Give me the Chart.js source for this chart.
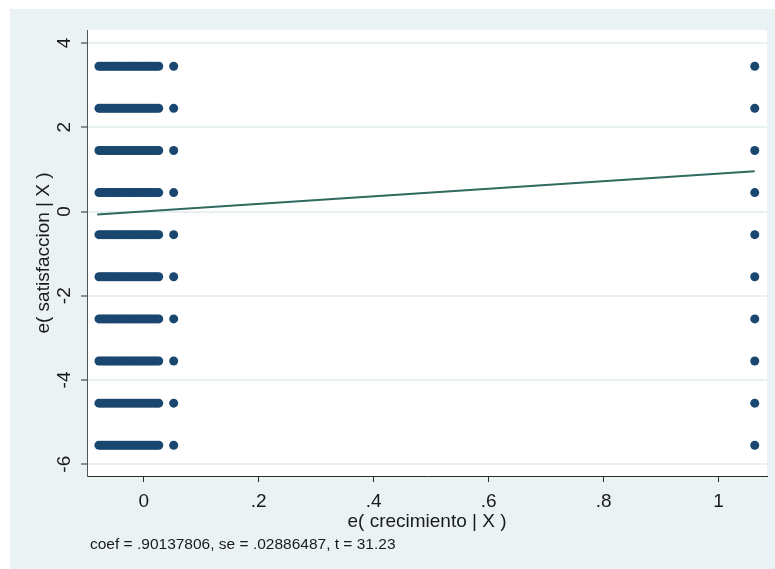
<!DOCTYPE html>
<html>
<head>
<meta charset="utf-8">
<title>e( satisfaccion | X ) vs e( crecimiento | X )</title>
<script src="https://cdn.jsdelivr.net/npm/chart.js@4.4.1/dist/chart.umd.min.js"></script>
<style>
  html, body { margin: 0; padding: 0; background: #ffffff; }
  #wrap { width: 775px; height: 569px; position: relative; }
</style>
</head>
<body>
<div id="wrap"><canvas id="av" width="775" height="569"></canvas></div>
<script>
// Residual levels of satisfaccion (one row of points per level)
const yLevels = [3.45, 2.45, 1.45, 0.45, -0.55, -1.55, -2.55, -3.55, -4.55, -5.55];

// Residuals of crecimiento in the dense group near zero
const clusterX = [-0.078, -0.074, -0.070, -0.066, -0.062, -0.058, -0.054, -0.050,
                  -0.046, -0.042, -0.038, -0.034, -0.030, -0.026, -0.022, -0.018,
                  -0.014, -0.010, -0.006, -0.002, 0.002, 0.006, 0.010, 0.014,
                  0.018, 0.022, 0.026];
// Isolated residual columns
const loneX = [0.052, 1.063];

// Fitted slope and its statistics
const coef = 0.90137806;
const se = 0.02886487;
const tStat = 31.23;
const fitX = [-0.081, 1.063];

// Axis ticks
const xTickValues = [0, 0.2, 0.4, 0.6, 0.8, 1];
const xTickLabels = ["0", ".2", ".4", ".6", ".8", "1"];
const yTickValues = [-6, -4, -2, 0, 2, 4];
const yTickLabels = ["-6", "-4", "-2", "0", "2", "4"];

const xTitle = "e( crecimiento | X )";
const yTitle = "e( satisfaccion | X )";
const note = "coef = .90137806, se = .02886487, t = 31.23";

// Scatter points: every residual column at every satisfaccion level
const points = [];
yLevels.forEach(y => {
  clusterX.forEach(x => points.push({ x: x, y: y }));
  loneX.forEach(x => points.push({ x: x, y: y }));
});
const fitLine = fitX.map(x => ({ x: x, y: coef * x }));

const FONT = '"Liberation Sans", Arial, sans-serif';

const frame = {
  id: 'frame',
  beforeDraw(chart) {
    const { ctx, chartArea: a } = chart;
    ctx.save();
    ctx.fillStyle = '#eaf2f3';
    ctx.fillRect(10, 9, chart.width - 10, chart.height - 9);
    ctx.fillStyle = '#ffffff';
    ctx.fillRect(a.left, a.top, a.right - a.left, a.bottom - a.top);
    ctx.restore();
  },
  afterDraw(chart) {
    const { ctx, chartArea: a } = chart;
    const xs = chart.scales.x, ys = chart.scales.y;
    ctx.save();
    ctx.fillStyle = '#1a1a1a';
    ctx.font = '19px ' + FONT;

    // x tick labels
    ctx.textAlign = 'center';
    ctx.textBaseline = 'alphabetic';
    xTickValues.forEach((v, i) => {
      ctx.fillText(xTickLabels[i], xs.getPixelForValue(v), 507);
    });

    // y tick labels, read bottom-to-top
    yTickValues.forEach((v, i) => {
      ctx.save();
      ctx.translate(70, ys.getPixelForValue(v));
      ctx.rotate(-Math.PI / 2);
      ctx.textAlign = 'center';
      ctx.fillText(yTickLabels[i], 0, 0);
      ctx.restore();
    });

    // axis titles
    ctx.fillText(xTitle, (a.left + a.right) / 2, 527);
    ctx.save();
    ctx.translate(49, (a.top + a.bottom) / 2);
    ctx.rotate(-Math.PI / 2);
    ctx.textAlign = 'center';
    ctx.fillText(yTitle, 0, 0);
    ctx.restore();

    // note with the slope statistics
    ctx.font = '15.5px ' + FONT;
    ctx.textAlign = 'left';
    ctx.fillText(note, 90, 549);
    ctx.restore();
  }
};

new Chart(document.getElementById('av'), {
  type: 'scatter',
  data: {
    datasets: [
      {
        type: 'scatter',
        data: points,
        pointRadius: 4.5,
        pointHoverRadius: 4.5,
        pointBackgroundColor: '#1a476f',
        pointBorderWidth: 0,
        order: 2
      },
      {
        type: 'line',
        data: fitLine,
        borderColor: '#2f6b5e',
        borderWidth: 2,
        pointRadius: 0,
        fill: false,
        tension: 0,
        order: 1
      }
    ]
  },
  options: {
    responsive: false,
    animation: false,
    events: [],
    layout: { padding: { left: 0, top: 30, right: 8, bottom: 0 } },
    plugins: { legend: { display: false }, tooltip: { enabled: false } },
    scales: {
      x: {
        type: 'linear',
        min: -0.0988,
        max: 1.0843,
        afterFit(s) { s.height = 93; },
        afterBuildTicks(s) { s.ticks = xTickValues.map(v => ({ value: v })); },
        ticks: { display: false },
        grid: { drawOnChartArea: false, drawTicks: true, tickLength: 6, tickColor: '#2a2a2a', tickWidth: 1 },
        border: { display: true, color: '#2a2a2a', width: 1 }
      },
      y: {
        type: 'linear',
        min: -6.28,
        max: 4.31,
        afterFit(s) { s.width = 87; },
        afterBuildTicks(s) { s.ticks = yTickValues.map(v => ({ value: v })); },
        ticks: { display: false },
        grid: { color: '#e8f0f2', lineWidth: 2, drawTicks: true, tickLength: 6, tickColor: '#2a2a2a', tickWidth: 1 },
        border: { display: true, color: '#555555', width: 1 }
      }
    }
  },
  plugins: [frame]
});
</script>
</body>
</html>
